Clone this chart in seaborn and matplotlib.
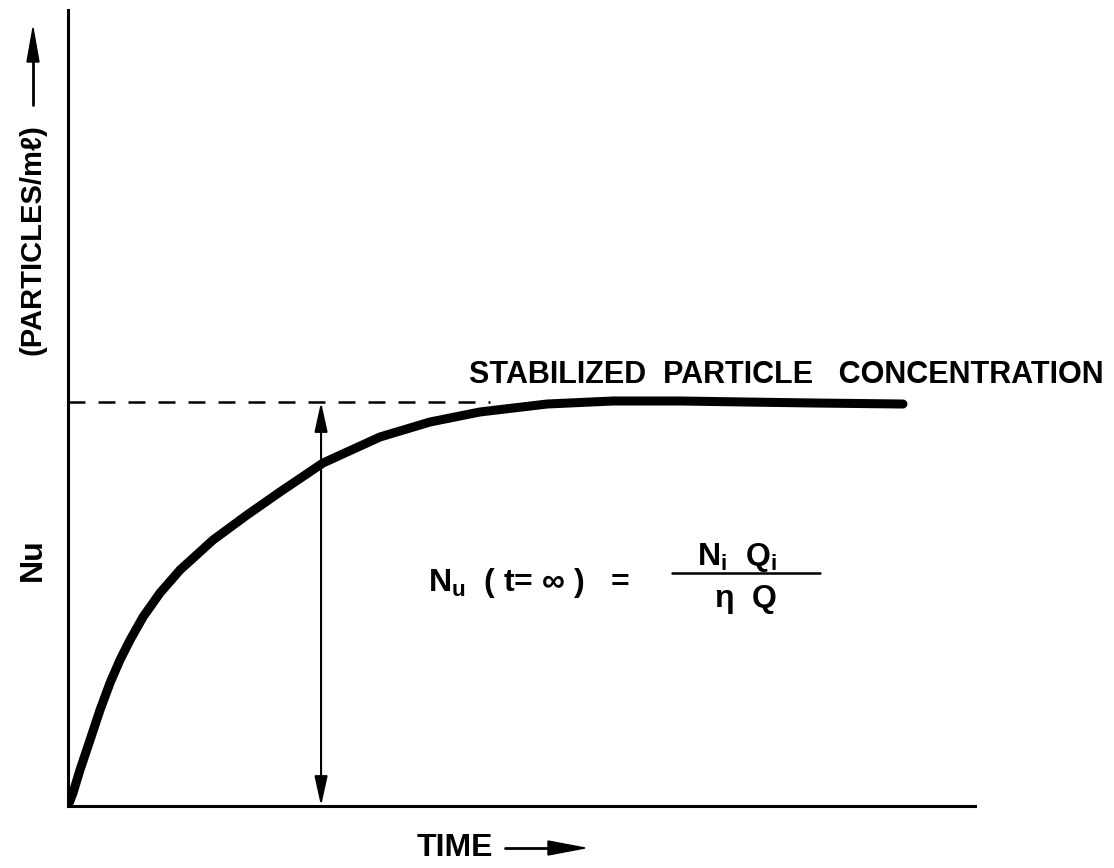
import matplotlib
matplotlib.use('Agg')
import matplotlib.pyplot as plt
import matplotlib.lines as mlines
import pandas as pd
import seaborn as sns

# build-up curve (arbitrary units, both axes span 0-100)
time = [0, 0.55, 1.32, 2.43, 3.53, 4.63, 5.73, 6.84, 8.27, 10.14, 12.35,
        15.99, 19.74, 23.37, 28.11, 34.40, 39.91, 45.42, 52.81, 60.09,
        67.48, 74.86, 82.14, 92.06]
nu = [0, 1.63, 4.52, 8.29, 12.06, 15.45, 18.34, 20.85, 23.74, 26.76, 29.65,
      33.42, 36.56, 39.45, 43.09, 46.36, 48.24, 49.50, 50.50, 50.88,
      50.88, 50.75, 50.63, 50.50]

nu_stable = 50.75     # stabilized concentration level
dash_end = 46.5       # where the dashed guide stops
t_marker = 27.9       # position of the double arrow

df = pd.DataFrame({'time': time, 'nu': nu})

sns.set_style('white')
plt.rcParams['font.family'] = ['Liberation Sans', 'DejaVu Sans']
plt.rcParams['text.color'] = 'black'
plt.rcParams['font.weight'] = 'bold'
plt.rcParams['mathtext.default'] = 'regular'

fig = plt.figure(figsize=(11.14, 8.68), dpi=100)
ax = fig.add_axes([68 / 1114, 62 / 868, 907 / 1114, 796 / 868])

sns.lineplot(data=df, x='time', y='nu', ax=ax, color='black', lw=6.5,
             solid_capstyle='round', solid_joinstyle='round')
ax.plot([0, dash_end], [nu_stable, nu_stable], color='black', lw=1.8,
        dashes=(6.8, 5.2))
ax.annotate('', xy=(t_marker, nu_stable), xytext=(t_marker, 0),
            arrowprops=dict(arrowstyle='<|-|>,head_length=1.0,head_width=0.22',
                            mutation_scale=18, lw=1.5, color='black',
                            shrinkA=0, shrinkB=0))

ax.set_xlim(0, 100)
ax.set_ylim(0, 100)
ax.set_xticks([])
ax.set_yticks([])
ax.set_xlabel('')
ax.set_ylabel('')
for s in ['top', 'right']:
    ax.spines[s].set_visible(False)
for s in ['left', 'bottom']:
    ax.spines[s].set_linewidth(2.2)
    ax.spines[s].set_color('black')

def fx(px):
    return px / 1114

def fy(py):
    return 1 - py / 868

# labels
fig.text(fx(786), fy(375), 'STABILIZED  PARTICLE   CONCENTRATION',
         fontsize=22, ha='center', va='center')
fig.text(fx(455), fy(848), 'TIME', fontsize=23, ha='center', va='center')
fig.add_artist(mlines.Line2D([fx(505), fx(560)], [fy(848), fy(848)],
                             color='black', lw=2))
fig.patches.append(plt.Polygon([[fx(548), fy(841)], [fx(585), fy(848)],
                                [fx(548), fy(855)]], closed=True,
                               color='black', transform=fig.transFigure))

fig.text(fx(33), fy(560), 'Nu', fontsize=23, rotation=90, ha='center', va='center')
fig.text(fx(33), fy(240), '(PARTICLES/mℓ)', fontsize=21, rotation=90,
         ha='center', va='center')
fig.add_artist(mlines.Line2D([fx(33), fx(33)], [fy(105), fy(50)],
                             color='black', lw=2))
fig.patches.append(plt.Polygon([[fx(27), fy(62)], [fx(33), fy(28)],
                                [fx(39), fy(62)]], closed=True,
                               color='black', transform=fig.transFigure))

# formula
fig.text(fx(428), fy(583), r'N$_{u}$  ( t= $\infty$ )   =', fontsize=23,
         ha='left', va='center')
fig.text(fx(737), fy(558), r'N$_{i}$  Q$_{i}$', fontsize=23,
         ha='center', va='center')
fig.add_artist(mlines.Line2D([fx(672), fx(820)], [fy(573), fy(573)],
                             color='black', lw=1.8))
fig.text(fx(745), fy(600), r'$\eta$  Q', fontsize=23, ha='center', va='center')

fig.savefig('out.png', dpi=100, facecolor='white')
